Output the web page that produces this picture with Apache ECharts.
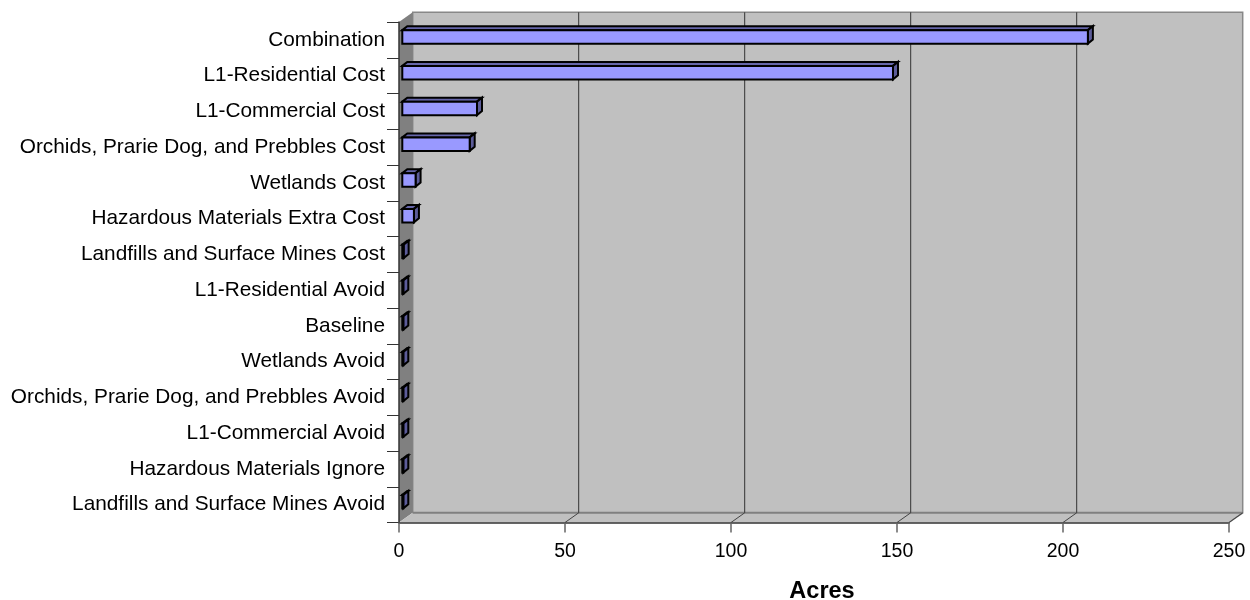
<!DOCTYPE html>
<html><head><meta charset="utf-8">
<style>html,body{margin:0;padding:0;background:#fff}#c{width:1250px;height:600px}</style>
<script src="https://cdn.jsdelivr.net/npm/echarts@6/dist/echarts.min.js"></script>
</head><body><div id="c"></div>
<script>
const categories = ["Combination","L1-Residential Cost","L1-Commercial Cost","Orchids, Prarie Dog, and Prebbles Cost","Wetlands Cost","Hazardous Materials Extra Cost","Landfills and Surface Mines Cost","L1-Residential Avoid","Baseline","Wetlands Avoid","Orchids, Prarie Dog, and Prebbles Avoid","L1-Commercial Avoid","Hazardous Materials Ignore","Landfills and Surface Mines Avoid"];
const acres = [206.5,147.8,22.5,20.3,4,3.5,0.4,0.3,0.3,0.3,0.3,0.3,0.3,0.3];
const xTicks = [0,50,100,150,200,250];
const FONT = '"Liberation Sans", Arial, sans-serif';
const depthX = 13.7, depthY = -9.7;
const barInsetX = 3.3, barInsetY = -3, barDepthX = 5, barDepthY = -4, barH = 13.5;
const chart = echarts.init(document.getElementById('c'));
const poly = (pts, fill, stroke, lw) => ({type:'polygon', shape:{points:pts}, style:{fill, stroke:stroke||null, lineWidth:lw||0}});
const line = (a,b,stroke,lw) => ({type:'line', shape:{x1:a[0],y1:a[1],x2:b[0],y2:b[1]}, style:{stroke, lineWidth:lw}});
chart.setOption({
  animation:false,
  grid:{left:399, right:21, top:22, bottom:77.5, containLabel:false, outerBoundsMode:'none'},
  xAxis:{type:'value', min:0, max:250, interval:50, z:5,
    name:'Acres', nameLocation:'middle', nameGap:57,
    nameTextStyle:{fontFamily:FONT, fontSize:23.5, fontWeight:'bold', color:'#000', padding:[0,0,0,16]},
    axisLine:{show:true, lineStyle:{color:'#333', width:1.5}},
    axisTick:{show:true, length:10, lineStyle:{color:'#666', width:1.5}},
    axisLabel:{fontFamily:FONT, fontSize:19.5, color:'#000', margin:19},
    splitLine:{show:false}},
  yAxis:{type:'category', data:categories, inverse:true, z:5,
    axisLine:{show:true, lineStyle:{color:'#333', width:1.5}},
    axisTick:{show:true, length:12, alignWithLabel:false, lineStyle:{color:'#333', width:1}},
    axisLabel:{fontFamily:FONT, fontSize:20.8, color:'#000', margin:14, interval:0}},
  series:[
    {type:'custom', z:1, silent:true, data:[0], coordinateSystem:'cartesian2d',
     encode:{x:0},
     renderItem(params, api){
       const cs = params.coordSys;
       const L=cs.x, R=cs.x+cs.width, T=cs.y, B=cs.y+cs.height;
       const ch=[
         poly([[L+depthX,T+depthY],[R+depthX,T+depthY],[R+depthX,B+depthY],[L+depthX,B+depthY]],'#C0C0C0','#888',1.5),
         poly([[L,T],[L+depthX,T+depthY],[L+depthX,B+depthY],[L,B]],'#808080'),
         poly([[L,B],[L+depthX,B+depthY],[R+depthX,B+depthY],[R,B]],'#C0C0C0'),
         line([L+depthX,B+depthY],[R+depthX,B+depthY],'#808080',2),
         line([R,B],[R+depthX,B+depthY],'#808080',1.5)
       ];
       xTicks.slice(1).forEach(t=>{
         const x=api.coord([t,0])[0];
         if(t<250) ch.push(line([x+depthX,T+depthY],[x+depthX,B+depthY],'#333',1));
         ch.push(line([x,B],[x+depthX,B+depthY],'#444',1));
       });
       return {type:'group',children:ch};
     }},
    {type:'custom', z:6, coordinateSystem:'cartesian2d',
     data:acres.map((v,i)=>[v,i]), encode:{x:0,y:1},
     renderItem(params, api){
       const p0=api.coord([0,api.value(1)]), p1=api.coord([api.value(0),api.value(1)]);
       const x0=p0[0]+barInsetX, x1=p1[0]+barInsetX, yc=p0[1]+barInsetY;
       const t=yc-barH/2, b=yc+barH/2, dx=barDepthX, dy=barDepthY;
       const s={stroke:'#000', lineWidth:2};
       return {type:'group',children:[
         {type:'polygon',shape:{points:[[x0,t],[x0+dx,t+dy],[x1+dx,t+dy],[x1,t]]},style:{fill:'#6666AA',...s}},
         {type:'polygon',shape:{points:[[x1,t],[x1+dx,t+dy],[x1+dx,b+dy],[x1,b]]},style:{fill:'#5C5C99',...s}},
         {type:'rect',shape:{x:x0,y:t,width:x1-x0,height:b-t},style:{fill:'#9999FF',...s}}
       ]};
     }}
  ]
});
</script></body></html>
